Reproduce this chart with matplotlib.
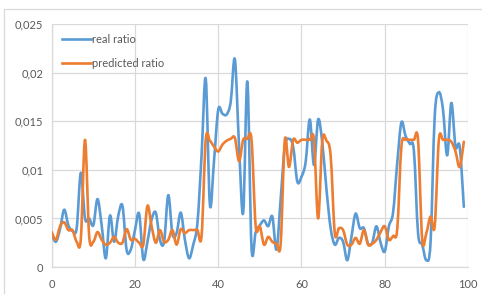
import numpy as np
import matplotlib
matplotlib.use("Agg")
import matplotlib.pyplot as plt
from matplotlib.path import Path
from matplotlib.patches import PathPatch, Rectangle
from matplotlib.lines import Line2D
from matplotlib.ticker import FuncFormatter, MultipleLocator

plt.rcParams['font.family'] = ['Lato', 'DejaVu Sans']

x_values = list(range(100))
real_ratio = [3.4, 2.6, 3.9, 5.9, 4.3, 3.7, 4.0, 9.7, 5.0, 5.0,
              4.3, 7.0, 4.3, 0.9, 5.3, 2.6, 5.3, 6.3, 1.75, 1.8,
              3.8, 5.5, 0.8, 2.6, 4.9, 5.6, 2.8, 2.6, 7.4, 3.4,
              3.5, 5.6, 2.8, 0.9, 2.3, 4.5, 11.5, 19.4, 6.4, 11.0,
              16.2, 15.8, 15.7, 17.0, 21.4, 12.5, 5.6, 19.1, 2.0, 3.6,
              4.3, 4.8, 4.2, 5.2, 1.8, 7.0, 12.4, 13.2, 12.4, 8.8,
              9.3, 10.8, 15.2, 10.5, 15.2, 12.8, 8.0, 4.0, 2.3, 3.0,
              2.6, 0.7, 3.1, 5.5, 4.0, 4.0, 2.4, 2.5, 4.2, 2.5,
              1.6, 4.2, 5.6, 10.7, 14.9, 13.5, 12.7, 12.0, 3.5, 2.3,
              0.7, 2.5, 15.5, 18.0, 16.2, 11.5, 16.9, 12.4, 12.4, 6.2]
predicted_ratio = [3.6, 2.8, 4.2, 4.6, 3.8, 3.8, 2.6, 2.9, 13.1, 3.2,
                   2.6, 3.6, 2.8, 2.3, 2.5, 3.1, 2.5, 2.5, 3.9, 2.8,
                   2.9, 2.5, 2.3, 6.3, 4.2, 2.5, 3.8, 2.6, 2.8, 3.8,
                   2.3, 3.9, 3.5, 3.8, 3.8, 3.8, 3.2, 13.1, 13.0, 12.4,
                   11.9, 12.6, 13.0, 13.2, 13.3, 10.9, 13.1, 13.2, 13.1, 4.2,
                   4.2, 2.3, 3.1, 2.6, 2.4, 2.4, 13.1, 10.3, 13.1, 12.8,
                   13.1, 13.1, 13.1, 13.1, 5.0, 13.0, 13.0, 11.5, 3.5, 4.0,
                   3.8, 2.3, 2.3, 3.0, 2.4, 3.8, 2.3, 2.4, 2.8, 3.6,
                   4.2, 2.8, 3.2, 3.9, 12.4, 13.1, 13.1, 13.1, 13.1, 2.8,
                   3.5, 5.2, 4.2, 13.1, 13.1, 13.1, 12.9, 11.9, 10.3, 12.9]
series_names = ["real ratio", "predicted ratio"]
series_colors = ["#5B9BD5", "#ED7D31"]


def smooth_path(xs, ys):
    xs = np.asarray(xs, float)
    ys = np.asarray(ys, float)
    pts = np.column_stack([xs, ys])
    verts = [pts[0]]
    codes = [Path.MOVETO]
    n = len(pts)
    for i in range(n - 1):
        p0 = pts[i - 1] if i > 0 else pts[i]
        p1 = pts[i]
        p2 = pts[i + 1]
        p3 = pts[i + 2] if i + 2 < n else pts[i + 1]
        c1 = p1 + (p2 - p0) / 6.0
        c2 = p2 - (p3 - p1) / 6.0
        verts += [c1, c2, p2]
        codes += [Path.CURVE4] * 3
    return Path(verts, codes)


fig = plt.figure(figsize=(4.82, 2.94), dpi=100)
ax = fig.add_axes([51.7 / 482, 1 - 267 / 294, (468 - 51.7) / 482, (267 - 24.3) / 294])

for ys, col in zip([real_ratio, predicted_ratio], series_colors):
    vals = [v / 1000.0 for v in ys]
    patch = PathPatch(smooth_path(x_values, vals), facecolor='none', edgecolor=col,
                      lw=1.9, capstyle='round', joinstyle='round', zorder=3)
    ax.add_patch(patch)

ax.set_xlim(0, 100)
ax.set_ylim(0, 0.025)
ax.xaxis.set_major_locator(MultipleLocator(20))
ax.yaxis.set_major_locator(MultipleLocator(0.005))
ax.yaxis.set_major_formatter(FuncFormatter(lambda v, p: "0" if abs(v) < 1e-12 else ("%g" % round(v, 3)).replace('.', ',')))
ax.grid(True, color='#d9d9d9', lw=0.9)
ax.set_axisbelow(True)
for s in ['top', 'right']:
    ax.spines[s].set_visible(False)
for s in ['left', 'bottom']:
    ax.spines[s].set_color('#d9d9d9')
    ax.spines[s].set_linewidth(0.9)
ax.tick_params(length=0, labelsize=8, colors='#595959', pad=6)
ax.tick_params(axis='x', pad=9)

handles = [Line2D([], [], color=c, lw=1.9) for c in series_colors]
leg = ax.legend(handles, series_names, loc='upper left', bbox_to_anchor=(0.0, 1.0),
                frameon=False, fontsize=8, labelspacing=1.15, handlelength=2.6,
                handletextpad=0.1, borderaxespad=0.5)
for t in leg.get_texts():
    t.set_color('#595959')

fig.patches.append(Rectangle((4 / 482, -0.1), 1.2, 1 - 9 / 294 + 0.1, transform=fig.transFigure,
                             fill=False, edgecolor='#d9d9d9', lw=0.9))

fig.savefig("out.png", dpi=100)
